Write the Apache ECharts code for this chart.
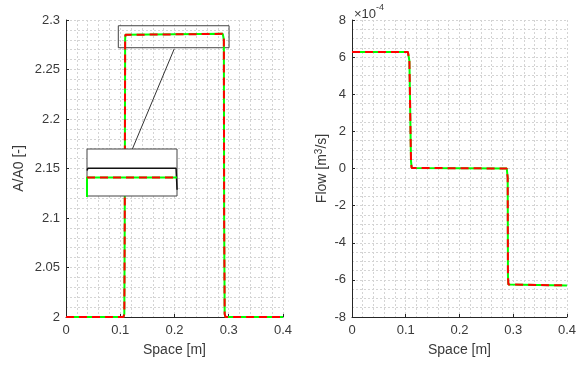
<!DOCTYPE html>
<html>
<head>
<meta charset="utf-8">
<script src="https://cdn.jsdelivr.net/npm/echarts@6/dist/echarts.min.js"></script>
<style>
  html, body { margin: 0; padding: 0; background: #fff; }
  #chart { width: 579px; height: 366px; }
</style>
</head>
<body>
<div id="chart"></div>
<script>
// left panel: A/A0 along the vessel
var areaX = [0, 0.106, 0.1075, 0.1083, 0.109, 0.1095, 0.111, 0.289, 0.2905, 0.291, 0.2915, 0.2925, 0.294, 0.4];
var areaRef = [2, 2, 2.003, 2.1, 2.28, 2.285, 2.286, 2.286, 2.285, 2.28, 2.1, 2.003, 2, 2];   // green
var areaSim = [2, 2, 2.003, 2.1, 2.28, 2.285, 2.286, 2.286, 2.285, 2.28, 2.1, 2.003, 2, 2];   // red dashed

// right panel: flow
var flowX = [0, 0.104, 0.106, 0.1068, 0.1098, 0.111, 0.113, 0.288, 0.2892, 0.2897, 0.2902, 0.291, 0.2925, 0.4];
var flowRef = [6.28e-4, 6.28e-4, 6.22e-4, 5.8e-4, 0.4e-4, 0.03e-4, 0, 0, -0.03e-4, -0.5e-4, -5.8e-4, -6.25e-4, -6.3e-4, -6.3e-4];
var flowSim = [6.28e-4, 6.28e-4, 6.22e-4, 5.8e-4, 0.4e-4, 0.03e-4, 0, 0, -0.03e-4, -0.5e-4, -5.8e-4, -6.25e-4, -6.3e-4, -6.3e-4];

// zoom box + connector on the left panel
var zoomBox = [[0.0964, 2.2942], [0.3006, 2.272]];
var connector = [[0.1994, 2.2707], [0.1216, 2.1687]];

// inset (magnified top of the step)
var insetX = [0.105, 0.107, 0.293, 0.295, 0.2952];
var insetBlack = [2.2866, 2.2872, 2.2872, 2.2868, 2.2817];
var insetGreenX = [0.105, 0.105, 0.295];
var insetGreen = [2.279, 2.2848, 2.2848];
var insetRedX = [0.105, 0.295];
var insetRed = [2.2848, 2.2848];

function pairs(xs, ys) {
  return xs.map(function (x, i) { return [x, ys[i]]; });
}

var font = 'Liberation Sans, Arial, Helvetica, sans-serif';
var txt = '#3a3a3a';
var dotted = { show: true, lineStyle: { color: '#d4d4d4', type: [2, 2], width: 1 } };

function xAxisFor(idx) {
  return {
    gridIndex: idx, type: 'value', min: 0, max: 0.4, interval: 0.1,
    name: 'Space [m]', nameLocation: 'middle', nameGap: 26,
    nameTextStyle: { color: txt, fontSize: 14, fontFamily: font },
    axisLine: { show: true, onZero: false, lineStyle: { color: '#262626', width: 1 } },
    axisTick: { show: true, inside: true, length: 3, lineStyle: { color: '#262626' } },
    axisLabel: { color: txt, fontSize: 13, fontFamily: font, margin: 7,
      formatter: function (v) { return String(Math.round(v * 10) / 10); } },
    splitLine: dotted,
    minorTick: { show: false, splitNumber: 5 },
    minorSplitLine: dotted
  };
}

var chart = echarts.init(document.getElementById('chart'));
chart.setOption({
  animation: false,
  backgroundColor: '#fff',
  grid: [
    { left: 66, top: 20, width: 217, height: 297 },
    { left: 352, top: 20, width: 218, height: 297 },
    { left: 87, top: 149, width: 90, height: 47, show: true, backgroundColor: '#fff',
      borderColor: '#444', borderWidth: 1, z: 10 }
  ],
  xAxis: [
    xAxisFor(0),
    xAxisFor(1),
    { gridIndex: 2, type: 'value', min: 0.105, max: 0.295, show: false }
  ],
  yAxis: [
    {
      gridIndex: 0, type: 'value', min: 2, max: 2.3, interval: 0.05,
      name: 'A/A0 [-]', nameLocation: 'middle', nameGap: 40,
      nameTextStyle: { color: txt, fontSize: 14, fontFamily: font },
      axisLine: { show: true, lineStyle: { color: '#262626', width: 1 } },
      axisTick: { show: true, inside: true, length: 3, lineStyle: { color: '#262626' } },
      axisLabel: { color: txt, fontSize: 13, fontFamily: font, margin: 6,
        formatter: function (v) { return String(Math.round(v * 100) / 100); } },
      splitLine: dotted,
      minorTick: { show: false, splitNumber: 5 },
      minorSplitLine: dotted
    },
    {
      gridIndex: 1, type: 'value', min: -8e-4, max: 8e-4, interval: 2e-4,
      name: 'Flow [m{sup|3}/s]', nameLocation: 'middle', nameGap: 21,
      nameTextStyle: { color: txt, fontSize: 14, fontFamily: font,
        rich: { sup: { fontSize: 10, verticalAlign: 'bottom', padding: [0, 0, 7, 0], color: txt, fontFamily: font } } },
      axisLine: { show: true, lineStyle: { color: '#262626', width: 1 } },
      axisTick: { show: true, inside: true, length: 3, lineStyle: { color: '#262626' } },
      axisLabel: { color: txt, fontSize: 13, fontFamily: font, margin: 6,
        formatter: function (v) { return String(Math.round(v / 1e-4)); } },
      splitLine: dotted,
      minorTick: { show: false, splitNumber: 4 },
      minorSplitLine: dotted
    },
    { gridIndex: 2, type: 'value', min: 2.2801, max: 2.2921, show: false }
  ],
  graphic: [
    {
      type: 'text', left: 354, top: 3, silent: true,
      style: {
        text: '{a|\u00d710}{b|-4}',
        rich: {
          a: { fontSize: 13, fontFamily: font, fill: txt, padding: [5, 0, 0, 0] },
          b: { fontSize: 9, fontFamily: font, fill: txt, verticalAlign: 'top' }
        }
      }
    }
  ],
  series: [
    {
      type: 'line', xAxisIndex: 0, yAxisIndex: 0, showSymbol: false, silent: true,
      data: pairs(areaX, areaRef),
      lineStyle: { color: '#00ff00', width: 2 },
      markArea: {
        silent: true,
        itemStyle: { color: 'rgba(0,0,0,0)', borderColor: '#444', borderWidth: 1 },
        data: [[{ coord: zoomBox[0] }, { coord: zoomBox[1] }]]
      },
      markLine: {
        silent: true, symbol: ['none', 'none'], label: { show: false },
        lineStyle: { color: '#333', type: 'solid', width: 1 },
        data: [[{ coord: connector[0] }, { coord: connector[1] }]]
      }
    },
    {
      type: 'line', xAxisIndex: 0, yAxisIndex: 0, showSymbol: false, silent: true,
      data: pairs(areaX, areaSim),
      lineStyle: { color: '#ff0000', width: 2, type: [8, 5] }
    },
    {
      type: 'line', xAxisIndex: 1, yAxisIndex: 1, showSymbol: false, silent: true,
      data: pairs(flowX, flowRef),
      lineStyle: { color: '#00ff00', width: 2 }
    },
    {
      type: 'line', xAxisIndex: 1, yAxisIndex: 1, showSymbol: false, silent: true,
      data: pairs(flowX, flowSim),
      lineStyle: { color: '#ff0000', width: 2, type: [8, 5] }
    },
    {
      type: 'line', xAxisIndex: 2, yAxisIndex: 2, showSymbol: false, silent: true, z: 11,
      data: pairs(insetX, insetBlack),
      lineStyle: { color: '#111', width: 1.5 }
    },
    {
      type: 'line', xAxisIndex: 2, yAxisIndex: 2, showSymbol: false, silent: true, z: 11,
      data: pairs(insetGreenX, insetGreen),
      lineStyle: { color: '#00ff00', width: 2 }
    },
    {
      type: 'line', xAxisIndex: 2, yAxisIndex: 2, showSymbol: false, silent: true, z: 12,
      data: pairs(insetRedX, insetRed),
      lineStyle: { color: '#ff0000', width: 2, type: [8, 5] }
    }
  ]
});
</script>
</body>
</html>
